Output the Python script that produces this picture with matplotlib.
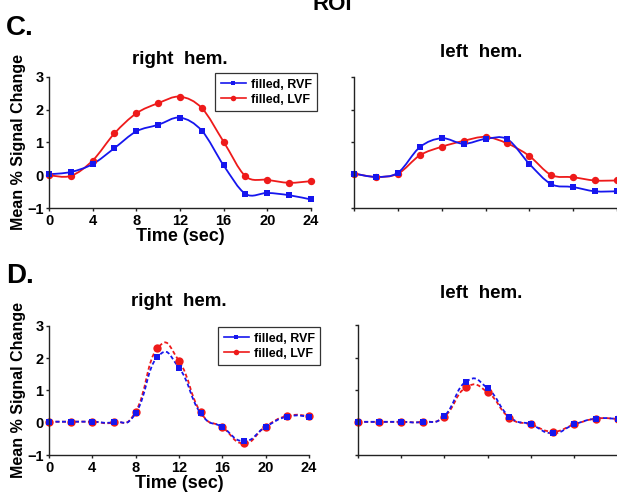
import numpy as np
import matplotlib
matplotlib.use("Agg")
import matplotlib.pyplot as plt
from matplotlib.path import Path
from matplotlib.patches import PathPatch
from matplotlib.lines import Line2D

plt.rcParams['font.family'] = ['Liberation Sans', 'DejaVu Sans']
plt.rcParams['font.weight'] = 'bold'

# ---------------- data ----------------
time = [0, 2, 4, 6, 8, 10, 12, 14, 16, 18, 20, 22, 24]
xticks = [0, 4, 8, 12, 16, 20, 24]
yticks = [-1, 0, 1, 2, 3]
series_labels = ["filled, RVF", "filled, LVF"]

# Panel C (measured)
c_right_rvf = [0.03, 0.10, 0.34, 0.83, 1.34, 1.54, 1.76, 1.36, 0.30, -0.57, -0.54, -0.61, -0.74]
c_right_lvf = [0.00, -0.02, 0.45, 1.28, 1.89, 2.20, 2.40, 2.05, 1.02, -0.03, -0.14, -0.23, -0.18]
c_left_rvf = [0.05, -0.05, 0.08, 0.86, 1.13, 0.96, 1.11, 1.10, 0.35, -0.27, -0.36, -0.49, -0.49]
c_left_lvf = [0.05, -0.05, 0.05, 0.61, 0.87, 1.05, 1.17, 0.97, 0.59, 0.01, -0.06, -0.16, -0.16]

# Panel D (model)
d_right_rvf = [0.03, 0.03, 0.03, 0.02, 0.29, 2.03, 1.70, 0.29, -0.14, -0.57, -0.13, 0.19, 0.19]
d_right_lvf = [0.03, 0.03, 0.03, 0.01, 0.34, 2.30, 1.91, 0.32, -0.14, -0.64, -0.12, 0.21, 0.21]
d_left_rvf = [0.02, 0.02, 0.02, 0.02, 0.20, 1.26, 1.05, 0.18, -0.06, -0.33, -0.06, 0.12, 0.11]
d_left_lvf = [0.02, 0.02, 0.02, 0.02, 0.18, 1.08, 0.93, 0.15, -0.06, -0.28, -0.06, 0.12, 0.11]

BLUE = '#1616ee'
RED = '#ee1a1a'


def smooth_path(x, y, f):
    x = np.asarray(x, float)
    y = np.asarray(y, float)
    n = len(x)
    verts = [(x[0], y[0])]
    codes = [Path.MOVETO]
    for i in range(n - 1):
        i0 = max(i - 1, 0)
        i3 = min(i + 2, n - 1)
        c1 = (x[i] + (x[i + 1] - x[i0]) * f, y[i] + (y[i + 1] - y[i0]) * f)
        c2 = (x[i + 1] - (x[i3] - x[i]) * f, y[i + 1] - (y[i3] - y[i]) * f)
        verts += [c1, c2, (x[i + 1], y[i + 1])]
        codes += [Path.CURVE4] * 3
    return Path(verts, codes)


def draw_series(ax, y, color, marker, ms, ls, f, lw):
    patch = PathPatch(smooth_path(time, y, f), fill=False, edgecolor=color,
                      linewidth=lw, linestyle=ls, clip_on=False,
                      capstyle='butt')
    ax.add_patch(patch)
    ax.plot(time, y, linestyle='none', marker=marker, markersize=ms,
            color=color, markeredgewidth=0, clip_on=False)


def style_axes(ax, labels):
    ax.set_xlim(0, 24)
    ax.set_ylim(-1, 3)
    ax.set_xticks(xticks)
    ax.set_yticks(yticks)
    for s in ['top', 'right']:
        ax.spines[s].set_visible(False)
    for s in ['left', 'bottom']:
        ax.spines[s].set_linewidth(1.0)
        ax.spines[s].set_color('#222222')
    ax.tick_params(direction='out', length=2.5, width=1.0, pad=1.5,
                   labelsize=10.5, colors='#222222', labelcolor='black')
    if labels:
        ax.set_xlabel('Time (sec)', fontsize=13, fontweight='bold', labelpad=0)
        ax.set_ylabel('Mean % Signal Change', fontsize=11.5, fontweight='bold',
                      labelpad=1)
        for t in ax.get_xticklabels() + ax.get_yticklabels():
            t.set_fontweight('bold')
    else:
        ax.set_xticklabels([])
        ax.set_yticklabels([])


W, H = 617, 494
fig = plt.figure(figsize=(W / 100, H / 100), dpi=100)


def add_ax(x0, x1, ytop, ybot):
    return fig.add_axes([x0 / W, 1 - ybot / H, (x1 - x0) / W, (ybot - ytop) / H])


ax_c_r = add_ax(49, 311, 77, 208)
ax_c_l = add_ax(354.3, 616.7, 77, 208)
ax_d_r = add_ax(49, 309, 325.7, 455)
ax_d_l = add_ax(357.7, 617.7, 325, 455)

# Panel C (solid smoothed lines)
for ax, rvf, lvf in [(ax_c_r, c_right_rvf, c_right_lvf), (ax_c_l, c_left_rvf, c_left_lvf)]:
    draw_series(ax, lvf, RED, 'o', 5.3, '-', 1 / 6, 1.3)
    draw_series(ax, rvf, BLUE, 's', 4.4, '-', 1 / 6, 1.3)

# Panel D (dashed smoothed lines)
for ax, rvf, lvf in [(ax_d_r, d_right_rvf, d_right_lvf), (ax_d_l, d_left_rvf, d_left_lvf)]:
    draw_series(ax, lvf, RED, 'o', 6.0, (0, (2.2, 1.4)), 1 / 4, 1.3)
    draw_series(ax, rvf, BLUE, 's', 5.0, (0, (2.2, 1.4)), 1 / 4, 1.3)

style_axes(ax_c_r, True)
style_axes(ax_c_l, False)
style_axes(ax_d_r, True)
style_axes(ax_d_l, False)

# Legends
handles = [Line2D([], [], color=BLUE, marker='s', markersize=3.5, lw=1.2, markeredgewidth=0),
           Line2D([], [], color=RED, marker='o', markersize=4.0, lw=1.2, markeredgewidth=0)]
for ax, anchor in [(ax_c_r, (0.634, 1.03)), (ax_d_r, (0.65, 0.99))]:
    leg = ax.legend(handles, series_labels, loc='upper left', bbox_to_anchor=anchor,
                    borderaxespad=0, prop={'weight': 'bold', 'size': 9},
                    frameon=True, fancybox=False, framealpha=1, edgecolor='#333333',
                    handlelength=2.0, handletextpad=0.4, labelspacing=0.25,
                    borderpad=0.45)
    leg.get_frame().set_linewidth(0.9)

# Titles & panel labels
fig.text(332 / W, 1 - 10 / H, 'ROI', fontsize=16, fontweight='bold', ha='center', va='baseline')
fig.text(6 / W, 1 - 35 / H, 'C.', fontsize=20, fontweight='bold', ha='left', va='baseline')
fig.text(6 / W, 1 - 283 / H, 'D.', fontsize=20, fontweight='bold', ha='left', va='baseline')
fig.text(180 / W, 1 - 64 / H, 'right  hem.', fontsize=13.5, fontweight='bold', ha='center', va='baseline')
fig.text(481 / W, 1 - 57.3 / H, 'left  hem.', fontsize=13.5, fontweight='bold', ha='center', va='baseline')
fig.text(179 / W, 1 - 306 / H, 'right  hem.', fontsize=13.5, fontweight='bold', ha='center', va='baseline')
fig.text(481 / W, 1 - 297.7 / H, 'left  hem.', fontsize=13.5, fontweight='bold', ha='center', va='baseline')

fig.savefig('out.png', dpi=100)
